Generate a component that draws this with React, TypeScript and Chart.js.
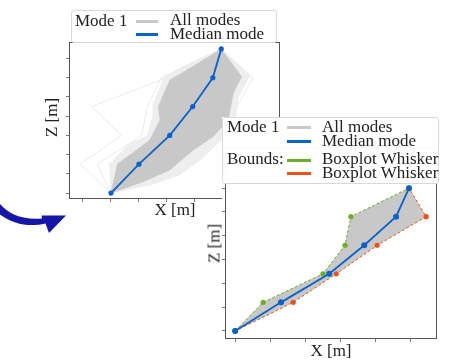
import React, { useEffect, useRef } from "react";
import { Chart, registerables } from "chart.js";
Chart.register(...registerables);

// ---------- top panel (all modes + median) ----------
const topTicksX = [0, 1, 2, 3, 4, 5, 6, 7];
const topTicksZ = [0, 1, 2, 3, 4, 5, 6, 7];
const topNodeZ = [0, 1.5, 3, 4.5, 6, 7.5];
const topMedianX = [1, 2, 3.1, 3.92, 4.64, 4.94];
const topCoreX = [1, 1.23, 1.92, 2.39, 2.75, 2.69, 3.1, 3.52, 4.94, 5.67, 5.37, 5.19, 4.65, 3.94, 3.1, 2.15, 1];
const topCoreZ = [0, 1.51, 2.24, 2.76, 3.8, 4.5, 5.88, 6.23, 7.48, 6.06, 5.19, 3.8, 2.93, 2.24, 1.2, 0.59, 0];
const topHaloX = [1, 0.95, 1.6, 2.3, 2.5, 2.5, 2.9, 3.4, 4.94, 5.95, 5.55, 5.45, 4.95, 4.25, 3.45, 2.45, 1];
const topHaloZ = [0, 1.5, 2.5, 3.0, 4.0, 4.6, 6.0, 6.45, 7.5, 6.1, 5.0, 3.8, 2.8, 1.8, 0.95, 0.45, 0];
const topOutlierAX = [1, -0.11, 1.38, 0.31, 3.0, 4.94];
const topOutlierBX = [1, 3.6, 4.8, 5.5, 6.07, 4.94];
const topOutlierCX = [1, 0.5, 2.1, 2.3, 2.8, 4.94];

// ---------- bottom panel (median + boxplot whisker bounds) ----------
const botTicksX = [0, 1, 2, 3, 4, 5];
const botTicksZ = [0, 1, 2, 3, 4, 5, 6, 7];
const botNodeZ = [0, 1.2, 2.4, 3.6, 4.8, 6.0];
const botMedianX = [0, 1.31, 2.69, 3.69, 4.6, 4.97];
const botUpperX = [0, 0.8, 2.51, 3.14, 3.31, 4.97];
const botLowerX = [0, 1.66, 2.89, 4.06, 5.46, 4.97];

const BLUE = "#0b62c6";
const GREEN = "#6fab2c";
const ORANGE = "#e5541f";
const GRAY = "#c8c8c8";
const FRAME = "#555555";
const SERIF = "'Liberation Serif', 'Times New Roman', serif";

const pts = (xs: number[], zs: number[]) => xs.map((x, i) => ({ x, y: zs[i] }));

const framePlugin = {
  id: "frame",
  afterDatasetsDraw(chart: any) {
    const { ctx, chartArea: a } = chart;
    ctx.save();
    ctx.strokeStyle = FRAME;
    ctx.lineWidth = 1;
    ctx.strokeRect(a.left + 0.5, a.top + 0.5, a.right - a.left - 1, a.bottom - a.top - 1);
    ctx.restore();
  },
};

const makeAxis = (min: number, max: number, ticks: number[]) => ({
  type: "linear" as const,
  min,
  max,
  border: { display: false },
  grid: { display: true, drawOnChartArea: false, drawTicks: true, tickLength: 3, color: "#777" },
  ticks: { display: false },
  afterBuildTicks: (axis: any) => {
    axis.ticks = ticks.map((v) => ({ value: v }));
  },
});

function TopChart() {
  const ref = useRef<HTMLCanvasElement | null>(null);
  useEffect(() => {
    if (!ref.current) return;
    const outlier = (xs: number[]) => ({
      data: pts(xs, topNodeZ),
      showLine: true,
      borderColor: "#ebebeb",
      borderWidth: 1,
      pointRadius: 0,
      fill: false,
      order: 5,
    });
    const chart = new Chart(ref.current, {
      type: "scatter",
      data: {
        datasets: [
          {
            data: pts(topMedianX, topNodeZ),
            showLine: true,
            borderColor: BLUE,
            backgroundColor: BLUE,
            borderWidth: 1.8,
            pointRadius: 2.6,
            pointBorderWidth: 0,
            fill: false,
            order: 0,
          },
          {
            data: pts(topCoreX, topCoreZ),
            showLine: true,
            borderColor: "#c4c4c4",
            backgroundColor: GRAY,
            borderWidth: 0.5,
            pointRadius: 0,
            fill: "shape",
            order: 2,
          },
          {
            data: pts(topHaloX, topHaloZ),
            showLine: true,
            borderColor: "#e6e6e6",
            backgroundColor: "#eeeeee",
            borderWidth: 0.5,
            pointRadius: 0,
            fill: "shape",
            order: 3,
          },
          outlier(topOutlierAX),
          outlier(topOutlierBX),
          outlier(topOutlierCX),
        ],
      } as any,
      options: {
        responsive: false,
        animation: false,
        devicePixelRatio: 1,
        layout: { padding: { left: 66, top: 42, right: 20, bottom: 28 } },
        plugins: { legend: { display: false }, tooltip: { enabled: false } },
        elements: { line: { tension: 0 } },
        scales: {
          x: makeAxis(-0.5, 7.04, topTicksX),
          y: makeAxis(-0.31, 7.86, topTicksZ),
        },
      } as any,
      plugins: [framePlugin],
    });
    return () => chart.destroy();
  }, []);
  return (
    <canvas
      ref={ref}
      width={300}
      height={230}
      style={{ position: "absolute", left: 0, top: 0, width: 300, height: 230 }}
    />
  );
}

function BottomChart() {
  const ref = useRef<HTMLCanvasElement | null>(null);
  useEffect(() => {
    if (!ref.current) return;
    const cover = {
      id: "cover",
      beforeDraw(chart: any) {
        const { ctx, width, height } = chart;
        ctx.save();
        ctx.fillStyle = "#ffffff";
        ctx.fillRect(27, 0, width - 27, height);
        ctx.restore();
      },
    };
    const band = [...pts(botUpperX, botNodeZ), ...pts(botLowerX, botNodeZ).reverse()];
    const chart = new Chart(ref.current, {
      type: "scatter",
      data: {
        datasets: [
          {
            data: pts(botMedianX, botNodeZ),
            showLine: true,
            borderColor: BLUE,
            backgroundColor: BLUE,
            borderWidth: 1.8,
            pointRadius: 3,
            pointBorderWidth: 0,
            fill: false,
            order: 0,
          },
          {
            data: pts(botUpperX, botNodeZ),
            showLine: true,
            borderColor: GREEN,
            backgroundColor: GREEN,
            borderWidth: 1,
            borderDash: [3, 2],
            pointRadius: 2.6,
            pointBorderWidth: 0,
            fill: false,
            order: 1,
          },
          {
            data: pts(botLowerX, botNodeZ),
            showLine: true,
            borderColor: ORANGE,
            backgroundColor: ORANGE,
            borderWidth: 1,
            borderDash: [3, 2],
            pointRadius: 2.6,
            pointBorderWidth: 0,
            fill: false,
            order: 1,
          },
          {
            data: band,
            showLine: true,
            borderColor: "rgba(0,0,0,0)",
            backgroundColor: GRAY,
            borderWidth: 0,
            pointRadius: 0,
            fill: "shape",
            order: 3,
          },
        ],
      } as any,
      options: {
        responsive: false,
        animation: false,
        devicePixelRatio: 1,
        layout: { padding: { left: 27, top: 30, right: 12, bottom: 18 } },
        plugins: { legend: { display: false }, tooltip: { enabled: false } },
        elements: { line: { tension: 0 } },
        scales: {
          x: makeAxis(-0.29, 5.77, botTicksX),
          y: makeAxis(-0.34, 7.73, botTicksZ),
        },
      } as any,
      plugins: [cover, framePlugin],
    });
    return () => chart.destroy();
  }, []);
  return (
    <canvas
      ref={ref}
      width={254}
      height={243}
      style={{ position: "absolute", left: 195, top: 117, width: 254, height: 243 }}
    />
  );
}

const FS = 17;
// baseline offset inside a line-height=FS box for Liberation Serif
const BASE = 14.2;

function Txt({ x, baseline, children }: any) {
  const style: any = {
    position: "absolute",
    left: x,
    top: baseline - BASE,
    fontFamily: SERIF,
    fontSize: FS,
    lineHeight: `${FS}px`,
    color: "#222",
    whiteSpace: "nowrap",
  };
  return <div style={style}>{children}</div>;
}

function CenterTxt({ cx, cy, children, rotate }: any) {
  return (
    <div
      style={{
        position: "absolute",
        left: cx - 40,
        top: cy - FS / 2,
        width: 80,
        height: FS,
        textAlign: "center",
        fontFamily: SERIF,
        fontSize: FS,
        lineHeight: `${FS}px`,
        color: "#222",
        whiteSpace: "nowrap",
        transform: rotate ? "rotate(-90deg)" : undefined,
      }}
    >
      {children}
    </div>
  );
}

function Swatch({ x1, x2, y, color }: any) {
  return (
    <div
      style={{ position: "absolute", left: x1, top: y - 1.5, width: x2 - x1, height: 3, background: color }}
    />
  );
}

function Box({ l, t, r, b }: any) {
  return (
    <div
      style={{
        position: "absolute",
        left: l,
        top: t,
        width: r - l,
        height: b - t,
        boxSizing: "border-box",
        border: "1px solid #d9d9d9",
        borderRadius: 3,
        background: "rgba(255,255,255,0.97)",
      }}
    />
  );
}

export default function App() {
  return (
    <div
      style={{
        position: "fixed",
        left: 0,
        top: 0,
        width: 449,
        height: 360,
        background: "#fff",
        overflow: "hidden",
      }}
    >
      <TopChart />
      {/* top legend */}
      <Box l={71} t={10} r={277} b={43} />
      <Txt x={75} baseline={26}>Mode 1</Txt>
      <Swatch x1={136} x2={158} y={21} color={GRAY} />
      <Swatch x1={136} x2={158} y={34} color={BLUE} />
      <Txt x={170} baseline={25}>All modes</Txt>
      <Txt x={170} baseline={39}>Median mode</Txt>
      <CenterTxt cx={175} cy={209}>X [m]</CenterTxt>
      <CenterTxt cx={51} cy={117} rotate>Z [m]</CenterTxt>

      <BottomChart />
      {/* bottom legend */}
      <Box l={222} t={117} r={439} b={184} />
      <Txt x={227} baseline={132}>Mode 1</Txt>
      <Txt x={227} baseline={164}>Bounds:</Txt>
      <Swatch x1={287} x2={311} y={127} color={GRAY} />
      <Swatch x1={287} x2={311} y={141} color={BLUE} />
      <Swatch x1={287} x2={311} y={160} color={GREEN} />
      <Swatch x1={287} x2={311} y={173} color={ORANGE} />
      <Txt x={322} baseline={132}>All modes</Txt>
      <Txt x={322} baseline={146}>Median mode</Txt>
      <Txt x={322} baseline={164}>Boxplot Whisker</Txt>
      <Txt x={322} baseline={178}>Boxplot Whisker</Txt>
      <CenterTxt cx={331} cy={350}>X [m]</CenterTxt>
      <CenterTxt cx={214} cy={243} rotate>Z [m]</CenterTxt>

      {/* curved arrow */}
      <svg width={80} height={60} style={{ position: "absolute", left: 0, top: 190 }} viewBox="0 190 80 60">
        <path
          d="M0 204 C 8 213, 20 220, 42 218.5 L 41.5 215.5 L 66 215.5 L 49 233 L 45.5 223.5 C 30 227, 14 225, 0 214.5 Z"
          fill="#1616a6"
        />
      </svg>
    </div>
  );
}
